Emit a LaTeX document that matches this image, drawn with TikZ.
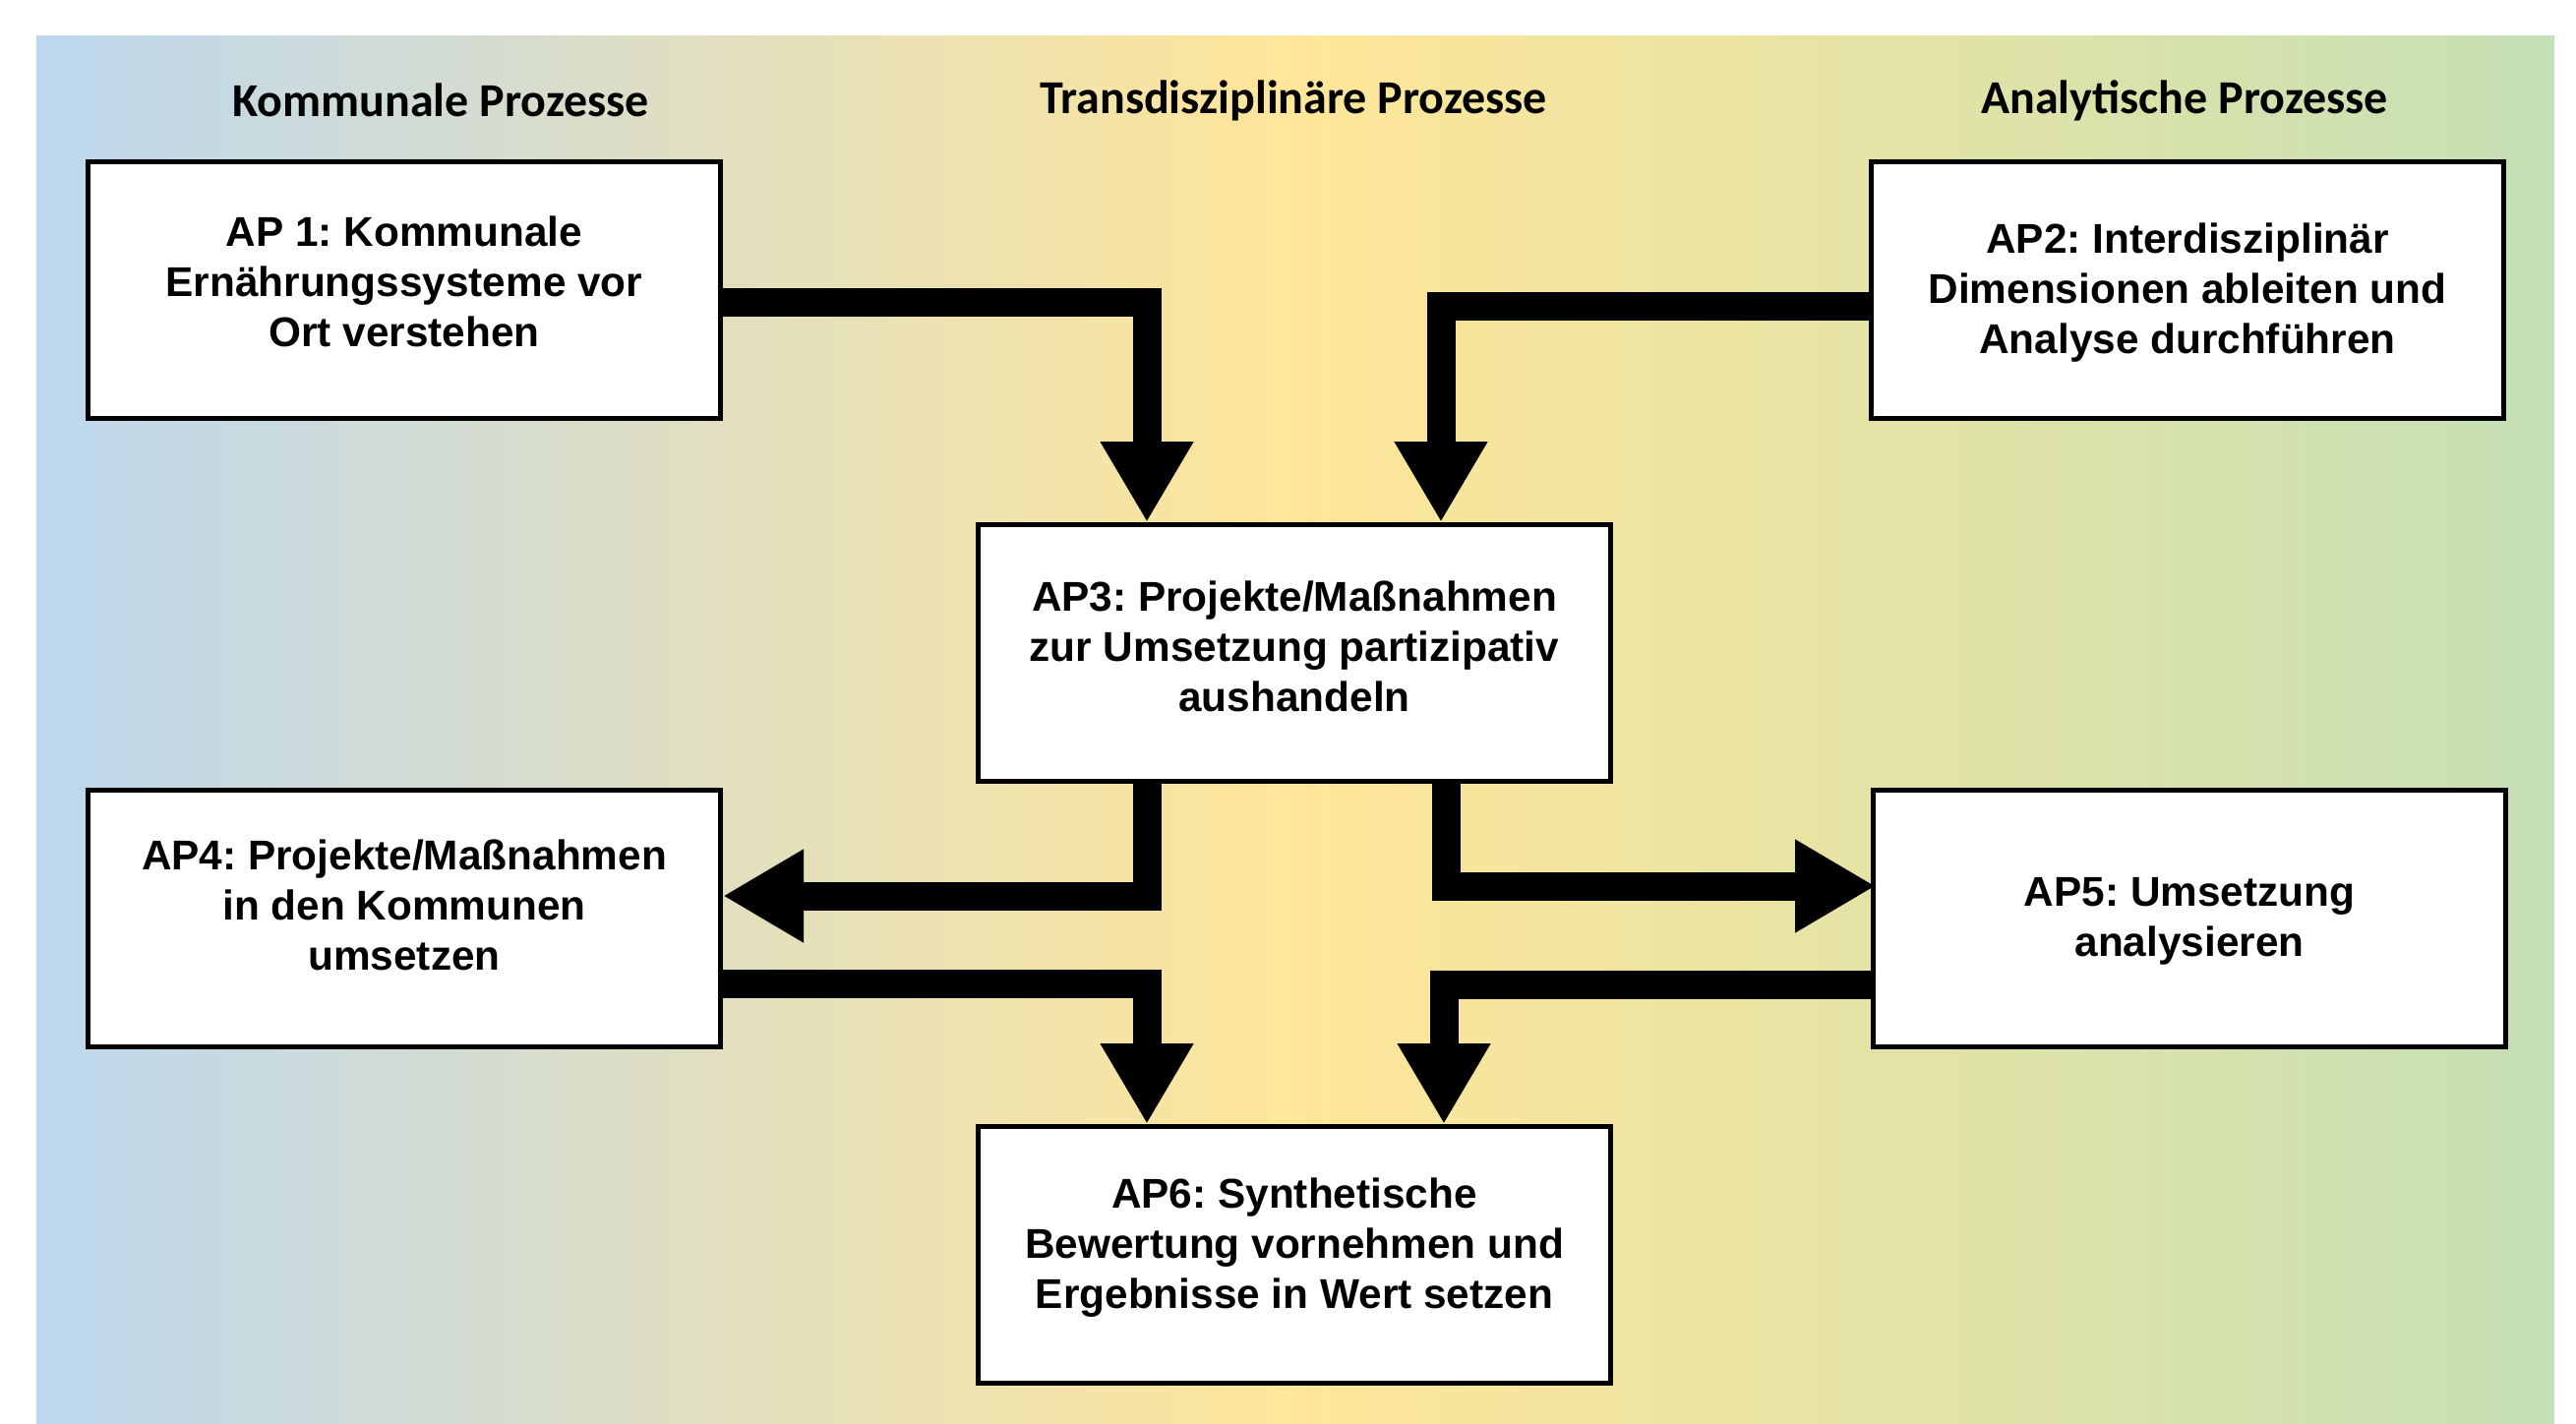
\documentclass[tikz,border=0pt]{standalone}
\usepackage{fontspec}
\setmainfont{Liberation Sans}
\newfontfamily\hdfont{Carlito}
\usetikzlibrary{arrows.meta}
\frenchspacing
\definecolor{bgblue}{RGB}{189,215,238}
\definecolor{bgyellow}{RGB}{255,230,153}
\definecolor{bggreen}{RGB}{197,224,180}
\tikzset{
  box/.style={draw=black, fill=white, line width=1.5pt, minimum width=192.9pt, minimum height=78.3pt,
    inner sep=0pt},
  boxtext/.style={align=center, inner sep=0pt, font=\fontsize{12.7}{15.3}\selectfont\bfseries},
  hdr/.style={font=\hdfont\fontsize{14.4}{17}\selectfont\bfseries, inner sep=0pt},
  blk/.style={line width=8.7pt, line join=miter, line cap=butt, draw=black,
    -{Triangle[width=26.7pt,length=24.6pt]}}
}
\begin{document}
\begin{tikzpicture}[x=0.3pt,y=-0.3pt]
\useasboundingbox (0,0) rectangle (2619,1448);
\shade[left color=bgblue, right color=bggreen, middle color=bgyellow] (37,37) rectangle (2597,1448);

\node[hdr] (h1) at (448,102) {Kommunale Prozesse};
\node[hdr] (h2) at (1315,102) {Transdisziplinäre Prozesse};
\node[hdr] (h3) at (2221,102) {Analytische Prozesse};

\node[box] (ap1) at (411,295) {};
\node[box] (ap2) at (2224,295) {};
\node[box] (ap3) at (1316,664) {};
\node[box] (ap4) at (411,934) {};
\node[box] (ap5) at (2226,934) {};
\node[box] (ap6) at (1316,1276) {};

\node[boxtext] (ap1t) at ([yshift=2.7pt]ap1.center) {AP 1: Kommunale\\Ernährungssysteme vor\\Ort verstehen};
\node[boxtext] (ap2t) at ([yshift=-0.9pt]ap2.center) {AP2: Interdisziplinär\\Dimensionen ableiten und\\Analyse durchführen};
\node[boxtext] (ap3t) at ([yshift=2.1pt]ap3.center) {AP3: Projekte/Maßnahmen\\zur Umsetzung partizipativ\\aushandeln};
\node[boxtext] (ap4t) at ([yshift=4.2pt]ap4.center) {AP4: Projekte/Maßnahmen\\in den Kommunen\\umsetzen};
\node[boxtext] (ap5t) at ([yshift=-0.9pt]ap5.center) {AP5: Umsetzung\\analysieren};
\node[boxtext] (ap6t) at ([yshift=2.2pt]ap6.center) {AP6: Synthetische\\Bewertung vornehmen und\\Ergebnisse in Wert setzen};

\draw[blk] (ap1.east |- 0,307) -| (ap3.north -| 1166,0);
\draw[blk] (ap2.west |- 0,311) -| (ap3.north -| 1465,0);
\draw[blk] (ap3.south -| 1166,0) |- (ap4.east |- 0,911);
\draw[blk] (ap3.south -| 1470,0) |- ([xshift=1.5pt]ap5.west |- 0,901);
\draw[blk] (ap4.east |- 0,1000) -| (ap6.north -| 1166,0);
\draw[blk] (ap5.west |- 0,1001) -| (ap6.north -| 1468,0);
\end{tikzpicture}
\end{document}
